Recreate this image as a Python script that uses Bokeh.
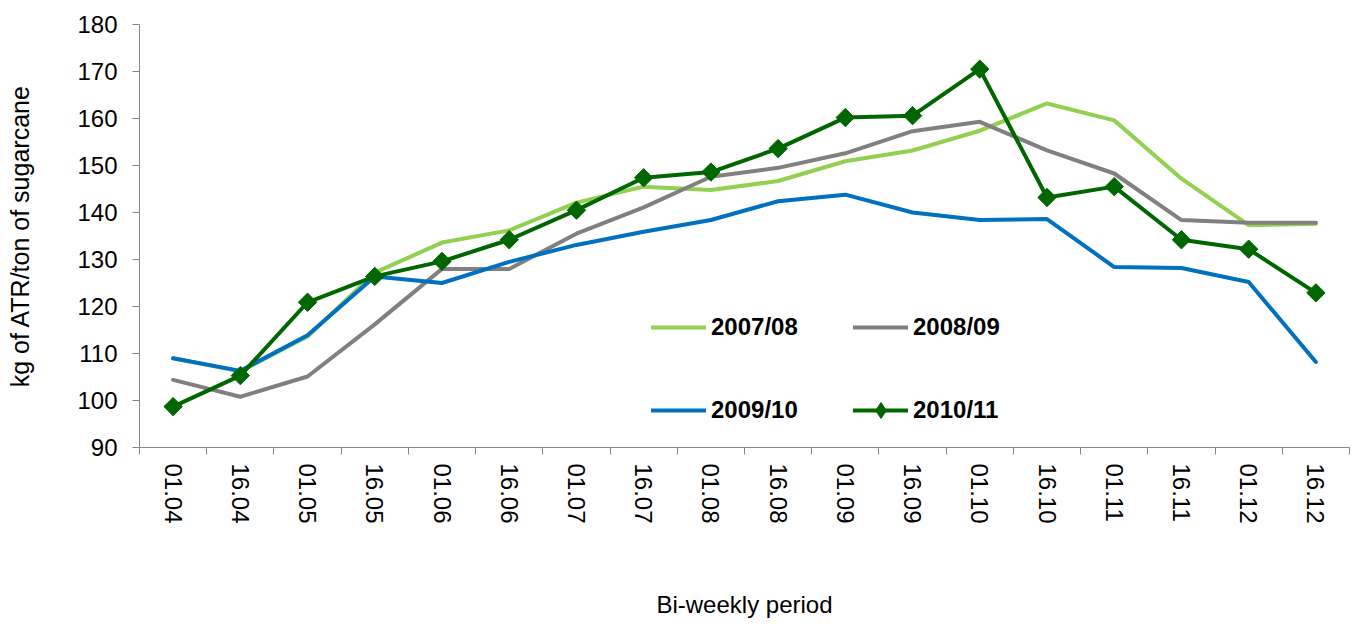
import math
from bokeh.plotting import figure
from bokeh.models import Range1d, FixedTicker, Legend, LegendItem
from bokeh.embed import file_html
from bokeh.resources import INLINE

categories = ["01.04", "16.04", "01.05", "16.05", "01.06", "16.06", "01.07", "16.07", "01.08",
              "16.08", "01.09", "16.09", "01.10", "16.10", "01.11", "16.11", "01.12", "16.12"]
s2007_08 = [109.0, 106.2, 113.6, 127.2, 133.6, 136.2, 142.1, 145.5, 144.8,
            146.7, 150.9, 153.2, 157.4, 163.2, 159.6, 147.2, 137.3, 137.6]
s2008_09 = [104.4, 100.8, 105.1, 116.2, 128.0, 128.0, 135.5, 141.1, 147.6,
            149.5, 152.6, 157.3, 159.3, 153.2, 148.3, 138.4, 137.8, 137.8]
s2009_10 = [109.0, 106.3, 113.9, 126.4, 125.0, 129.5, 133.1, 135.9, 138.4,
            142.4, 143.8, 140.0, 138.4, 138.6, 128.4, 128.2, 125.2, 108.2]
s2010_11 = [98.7, 105.3, 120.9, 126.4, 129.6, 134.2, 140.5, 147.4, 148.6,
            153.6, 160.2, 160.6, 170.5, 143.2, 145.5, 134.2, 132.2, 122.9]
series_names = ["2007/08", "2008/09", "2009/10", "2010/11"]
y_ticks = [90, 100, 110, 120, 130, 140, 150, 160, 170, 180]

xs = list(range(1, len(categories) + 1))
FONT = "Liberation Sans"
C1, C2, C3, C4 = "#92D050", "#808080", "#0070C0", "#006600"

p = figure(width=1350, height=620, output_backend="svg", toolbar_location=None,
           x_range=Range1d(0.5, len(categories) + 0.5), y_range=Range1d(90, 180),
           min_border_left=139, min_border_right=1, min_border_top=24, min_border_bottom=171)
p.outline_line_color = None
p.grid.visible = False
p.background_fill_color = "white"
p.border_fill_color = "white"

r1 = p.line(xs, s2007_08, line_color=C1, line_width=4, line_cap="round", line_join="round")
r2 = p.line(xs, s2008_09, line_color=C2, line_width=4, line_cap="round", line_join="round")
r3 = p.line(xs, s2009_10, line_color=C3, line_width=4, line_cap="round", line_join="round")
r4 = p.line(xs, s2010_11, line_color=C4, line_width=4, line_cap="round", line_join="round")
# diamond used for the legend; fully covered by the rotated squares drawn on top
r4d = p.scatter(xs, s2010_11, marker="diamond", size=16, fill_color=C4, line_color=C4)
r4m = p.scatter(xs, s2010_11, marker="square", angle=math.pi / 4, size=13,
                fill_color=C4, line_color=C4)

# y axis
ya = p.yaxis[0]
ya.ticker = FixedTicker(ticks=y_ticks)
ya.axis_label = "kg of ATR/ton of sugarcane"
ya.axis_label_text_font = FONT
ya.axis_label_text_font_style = "normal"
ya.axis_label_text_font_size = "25px"
ya.axis_label_text_color = "black"
ya.axis_label_standoff = 40
ya.major_label_text_font = FONT
ya.major_label_text_font_size = "24px"
ya.major_label_text_color = "black"
ya.major_label_standoff = 15
ya.axis_line_color = "#868686"
ya.major_tick_line_color = "#868686"
ya.major_tick_out = 7
ya.major_tick_in = 0
ya.minor_tick_line_color = None

# x axis
xa = p.xaxis[0]
xa.ticker = FixedTicker(ticks=xs, minor_ticks=[i + 0.5 for i in range(0, len(categories) + 1)])
xa.major_label_overrides = {x: c for x, c in zip(xs, categories)}
xa.major_label_orientation = "vertical"
xa.axis_label = "Bi-weekly period"
xa.axis_label_text_font = FONT
xa.axis_label_text_font_style = "normal"
xa.axis_label_text_font_size = "24px"
xa.axis_label_text_color = "black"
xa.axis_label_standoff = 64
xa.major_label_text_font = FONT
xa.major_label_text_font_size = "24px"
xa.major_label_text_color = "black"
xa.major_label_standoff = 9
xa.axis_line_color = "#868686"
xa.major_tick_line_color = None
xa.minor_tick_line_color = "#868686"
xa.minor_tick_out = 7
xa.minor_tick_in = 0

legend_specs = [
    (series_names[0], [r1], (512, 100)),
    (series_names[1], [r2], (714, 100)),
    (series_names[2], [r3], (512, 17)),
    (series_names[3], [r4, r4d], (714, 17)),
]
for label, rends, loc in legend_specs:
    lg = Legend(items=[LegendItem(label=label, renderers=rends)], location=loc,
                orientation="horizontal", padding=0, margin=0, spacing=0,
                glyph_width=55, glyph_height=40, label_height=40, label_standoff=5,
                label_text_font=FONT, label_text_font_size="24px",
                label_text_font_style="bold", label_text_color="black",
                border_line_color=None, background_fill_alpha=0)
    p.add_layout(lg)

open("out.html", "w").write(file_html(p, INLINE))
